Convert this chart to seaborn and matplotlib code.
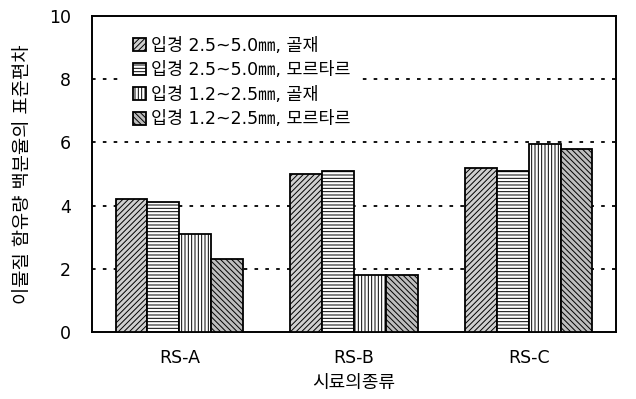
import matplotlib
matplotlib.use("Agg")
import matplotlib.pyplot as plt
import seaborn as sns
import pandas as pd

samples = ["RS-A", "RS-B", "RS-C"]
series = ["입경 2.5~5.0㎜, 골재", "입경 2.5~5.0㎜, 모르타르",
          "입경 1.2~2.5㎜, 골재", "입경 1.2~2.5㎜, 모르타르"]
vals_1 = [4.2, 5.0, 5.2]
vals_2 = [4.1, 5.1, 5.1]
vals_3 = [3.1, 1.8, 5.95]
vals_4 = [2.3, 1.8, 5.8]
yticks = [0, 2, 4, 6, 8, 10]

sns.set_theme(style="white")
fam = ['DejaVu Sans', 'Noto Sans CJK KR']
plt.rcParams['font.family'] = fam
plt.rcParams['hatch.linewidth'] = 0.7
plt.rcParams['text.color'] = 'black'
plt.rcParams['xtick.color'] = 'black'
plt.rcParams['ytick.color'] = 'black'
plt.rcParams['axes.labelcolor'] = 'black'

rows = []
for s, vs in zip(series, [vals_1, vals_2, vals_3, vals_4]):
    for c, v in zip(samples, vs):
        rows.append({"sample": c, "series": s, "value": v})
df = pd.DataFrame(rows)

fig = plt.figure(figsize=(6.36, 3.99), dpi=100)
ax = fig.add_axes([92/636, 1-332/399, 524/636, 316/399])

faces = ["#cfcfcf", "#ffffff", "#ffffff", "#bdbdbd"]
hatches = ["//////", "-----", "|||||", "\\\\\\\\\\\\"]
sns.barplot(data=df, x="sample", y="value", hue="series", ax=ax,
            width=0.73, palette=faces, edgecolor="black", linewidth=1.3,
            saturation=1, zorder=3)
for cont, h, fc in zip(ax.containers, hatches, faces):
    for p in cont:
        p.set_hatch(h)
        p.set_facecolor(fc)
        p.set_edgecolor("black")

for y in [2, 4, 6, 8]:
    ax.axhline(y, color="black", linestyle=(0, (2, 4)), linewidth=1.3, zorder=1)

ax.set_xlim(-0.5, 2.5)
ax.set_ylim(0, 10)
ax.set_yticks(yticks)
ax.set_yticklabels([str(t) for t in yticks], fontsize=12.5)
ax.set_xticks(range(len(samples)))
ax.set_xticklabels(samples, fontsize=12.5)
ax.tick_params(axis='x', pad=12, length=0)
ax.tick_params(axis='y', length=0, pad=15)
ax.set_xlabel("시료의종류", fontsize=13, labelpad=5)
ax.set_ylabel("이물질 함유량 백분율의 표준편차", fontsize=13.5, labelpad=12)
for sp in ax.spines.values():
    sp.set_color("black")
    sp.set_linewidth(1.4)
    sp.set_visible(True)

handles, labels = ax.get_legend_handles_labels()
leg = ax.legend(handles, labels, loc="upper left", bbox_to_anchor=(0.045, 0.99),
                fontsize=12.5, handlelength=0.75, handleheight=0.75, handletextpad=0.3,
                labelspacing=0.38, frameon=True, facecolor="white", edgecolor="white",
                framealpha=1, borderpad=0.5, fancybox=False)
leg.set_zorder(5)
for hp, h, fc in zip(leg.legend_handles, hatches, faces):
    hp.set_hatch(h)
    hp.set_facecolor(fc)
    hp.set_edgecolor("black")

fig.savefig("out.png", dpi=100)
